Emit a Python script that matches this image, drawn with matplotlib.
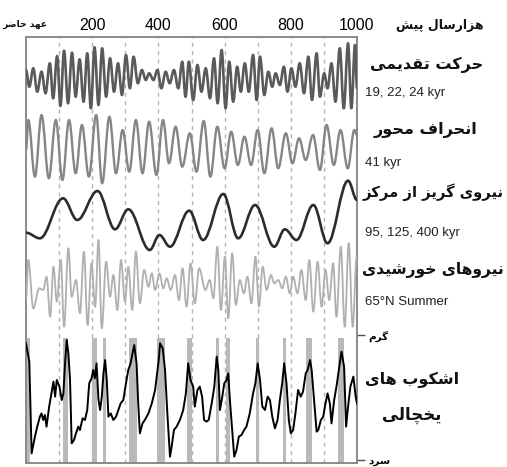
import numpy as np
import matplotlib
matplotlib.use('Agg')
import matplotlib.pyplot as plt
from matplotlib.path import Path
from matplotlib.patches import PathPatch

# ---------------- data (kyr before present) ----------------
prec_kyr = [0, 10, 22, 34, 47, 59, 72, 82, 94, 104, 115, 127, 139, 150, 162, 174, 185, 196, 207, 219,
            230, 242, 254, 266, 278, 290, 302, 314, 325, 338, 350, 362, 372, 385, 397, 409, 422, 434,
            447, 460, 472, 482, 492, 505, 518, 530, 543, 556, 568, 579, 591, 603, 614, 626, 638, 649,
            661, 673, 686, 697, 707, 720, 732, 744, 754, 767, 779, 790, 802, 814, 827, 840, 853, 864,
            878, 888, 901, 911, 923, 935, 948, 960, 973, 983, 994, 1000]
prec_val = [8, -8.7, 9.7, -13.7, 6.3, -15.3, 14.7, -20.3, 22, -28, 27.3, -25.3, 25.3, -18.7, 18.7, -23.7,
            24.7, -30.3, 30.7, -27, 29.7, -18.7, 19.7, -13.7, 14.7, -17, 23, -10.3, 21.3, -5.3, 8, -2,
            4.7, -2, 8, -10.3, 6.3, -5.3, 8, -10.3, 16.3, -18.7, 16.3, -22, 13, -13.7, 9.7, -20.3, 19.7,
            -25.3, 28, -30.3, 16.3, -23.7, 11.3, -13.7, 14.7, -13.7, 23, -22, 21.3, -17, 6.3, -8.7, 4.7,
            -7, 11.3, -13.7, 9.7, -8.7, 14.7, -15.3, 21.3, -22, 24.7, -18.7, 4.7, -10.3, 14.7, -23.7,
            29.7, -30.3, 34.7, -30.3, 33, -10]

obl_kyr = [0, 7, 27, 47, 69, 90, 110, 130, 150, 169, 190, 212, 230, 252, 272, 292, 312, 332, 352, 372,
           394, 414, 432, 452, 472, 495, 515, 537, 557, 578, 600, 620, 640, 660, 680, 700, 720, 742,
           762, 785, 805, 825, 845, 867, 888, 908, 930, 950, 972, 992, 1000]
obl_val = [-2, 28, -28.7, 33, -30.3, 28, -32, 28, -25.3, 23, -28.7, 33, -35.3, 31.3, -25.3, 18, -23.7,
           28, -25.3, 26.3, -27, 28, -15.3, 21.3, -18.7, 14.7, -23.7, 27, -28.7, 21.3, -20.3, 16.3, -17,
           11.3, -17, 18, -25.3, 19.7, -20.3, 14.7, -15.3, 9.7, -12, 13, -22, 23, -17, 18, -20.3, 18, 13]

ecc_kyr = [0, 42, 112, 155, 216, 269, 309, 374, 403, 435, 493, 535, 596, 641, 692, 750, 782, 817, 868,
           911, 973, 1000]
ecc_val = [-12.7, -18.3, 21.7, 0, 29, -9.3, 10.7, -30, -15, -26.7, 9.3, -20, 26, -18.3, 15, -26.7, -9.3,
           -20, 15, -23.3, 39.3, 20]

ins_kyr = [0, 7, 22, 40, 52, 62, 73, 83, 93, 105, 115, 128, 138, 151, 163, 175, 186, 198, 209, 219, 229,
           242, 254, 264, 276, 287, 299, 309, 321, 332, 344, 357, 370, 380, 390, 403, 415, 425, 437, 450,
           462, 473, 485, 497, 510, 523, 542, 555, 566, 578, 589, 601, 611, 623, 634, 646, 658, 669, 681,
           693, 704, 715, 727, 740, 750, 762, 774, 785, 797, 807, 820, 832, 845, 856, 868, 881, 893, 905,
           916, 928, 938, 951, 963, 975, 987, 999]
ins_val = [-15, 25, -23.3, -3.3, -5, 8.3, -31.7, 18.3, -16.7, 25, -41.7, 36.7, -11.7, 5, -28.3, 33.3, -40,
           21.7, -21.7, 45, -43.3, 23.3, -11.7, 10, -25, 25, -16.7, 18.3, -25, 33.3, -18.3, 15, -1.7, 11.7,
           -5, 11.7, -3.3, 6.7, -5, 10, -15, 16.7, -21.7, 21.7, -18.3, 16.7, -5, 5, -13.3, 38.3, -25, 28.3,
           -33.3, 31.7, -20, 5, -8.3, 8.3, -18.3, 28.3, -21.7, 18.3, -5, 10, 1.7, 5, -3.3, 8.3, -8.3, 8.3,
           -8.3, 15, -15, 25, -26.7, 23.3, -21.7, 15, -15, 21.7, -31.7, 38.3, -41.7, 41.7, -41.7, 28.3]

# glacial record: 0 = cold, 1 = warm
glac_kyr = [0, 10, 17, 27, 34, 42, 47, 52, 57, 62, 70, 78, 83, 88, 93, 101, 108, 113, 118, 123, 128, 133,
            138, 145, 151, 158, 163, 171, 178, 185, 191, 198, 203, 208, 213, 219, 224, 229, 234, 239, 244,
            249, 256, 264, 272, 279, 286, 294, 302, 309, 316, 322, 327, 334, 339, 344, 352, 359, 370, 380,
            390, 395, 401, 405, 413, 420, 427, 435, 440, 447, 455, 465, 475, 483, 490, 497, 505, 510, 518,
            525, 532, 538, 545, 552, 561, 569, 576, 581, 586, 593, 599, 606, 611, 616, 623, 629, 636, 643,
            651, 659, 666, 676, 686, 693, 700, 707, 714, 722, 730, 737, 744, 752, 760, 767, 774, 780, 787,
            794, 800, 807, 814, 822, 830, 837, 845, 851, 858, 863, 871, 878, 883, 891, 898, 903, 911, 918,
            923, 931, 938, 945, 953, 961, 967, 973, 980, 989, 996, 1000]
glac_val = [0.933, 0.787, 0.053, 0.187, 0.267, 0.347, 0.373, 0.32, 0.36, 0.267, 0.427, 0.547, 0.627, 0.507,
            0.64, 0.587, 0.48, 0.533, 0.773, 0.96, 0.853, 0.64, 0.133, 0.16, 0.213, 0.267, 0.24, 0.333,
            0.32, 0.4, 0.613, 0.653, 0.72, 0.653, 0.773, 0.48, 0.4, 0.507, 0.693, 0.8, 0.64, 0.347, 0.373,
            0.32, 0.347, 0.4, 0.453, 0.48, 0.613, 0.72, 0.773, 0.853, 0.92, 0.773, 0.453, 0.213, 0.293,
            0.32, 0.373, 0.453, 0.56, 0.667, 0.8, 0.933, 0.893, 0.72, 0.373, 0.027, 0.107, 0.24, 0.267,
            0.32, 0.4, 0.533, 0.773, 0.64, 0.587, 0.427, 0.56, 0.587, 0.507, 0.32, 0.307, 0.32, 0.453,
            0.587, 0.827, 0.72, 0.4, 0.507, 0.613, 0.64, 0.693, 0.48, 0.24, 0.027, 0.08, 0.187, 0.2, 0.24,
            0.267, 0.373, 0.533, 0.613, 0.773, 0.64, 0.427, 0.4, 0.507, 0.48, 0.347, 0.253, 0.32, 0.48,
            0.613, 0.773, 0.613, 0.32, 0.213, 0.24, 0.373, 0.56, 0.507, 0.547, 0.693, 0.72, 0.8, 0.72,
            0.453, 0.227, 0.24, 0.32, 0.347, 0.427, 0.533, 0.453, 0.293, 0.48, 0.587, 0.72, 0.867, 0.747,
            0.267, 0.427, 0.587, 0.667, 0.507, 0.453]

# interglacial bands (start, end kyr)
term_start = [0, 113, 198, 233, 312, 397, 485, 573, 603, 695, 775, 846, 943]
term_end = [13, 128, 216, 242, 334, 420, 502, 583, 616, 704, 787, 865, 961]

grid_kyr = [100, 200, 300, 400, 500, 600, 700, 800, 900]
top_ticks = [200, 400, 600, 800, 1000]

labels_fa = {
    'prec': 'حرکت تقدیمی',
    'obl': 'انحراف محور',
    'ecc': 'نیروی گریز از مرکز',
    'ins': 'نیروهای خورشیدی',
    'glac1': 'اشکوب\u200cهای',
    'glac2': 'یخچالی',
    'warm': 'گرم',
    'cold': 'سرد',
    'now': 'عهد حاضر',
    'kyr': 'هزارسال پیش',
}
labels_en = {
    'prec': '19, 22, 24 kyr',
    'obl': '41 kyr',
    'ecc': '95, 125, 400 kyr',
    'ins': '65°N Summer',
}

# ---------------- minimal Persian shaping ----------------
FORMS = {
    'ا': ('\uFE8D', '\uFE8E', None, None),
    'ب': ('\uFE8F', '\uFE90', '\uFE91', '\uFE92'),
    'پ': ('\uFB56', '\uFB57', '\uFB58', '\uFB59'),
    'ت': ('\uFE95', '\uFE96', '\uFE97', '\uFE98'),
    'ح': ('\uFEA1', '\uFEA2', '\uFEA3', '\uFEA4'),
    'خ': ('\uFEA5', '\uFEA6', '\uFEA7', '\uFEA8'),
    'چ': ('\uFB7A', '\uFB7B', '\uFB7C', '\uFB7D'),
    'د': ('\uFEA9', '\uFEAA', None, None),
    'ر': ('\uFEAD', '\uFEAE', None, None),
    'ز': ('\uFEAF', '\uFEB0', None, None),
    'س': ('\uFEB1', '\uFEB2', '\uFEB3', '\uFEB4'),
    'ش': ('\uFEB5', '\uFEB6', '\uFEB7', '\uFEB8'),
    'ض': ('\uFEBD', '\uFEBE', '\uFEBF', '\uFEC0'),
    'ع': ('\uFEC9', '\uFECA', '\uFECB', '\uFECC'),
    'ف': ('\uFED1', '\uFED2', '\uFED3', '\uFED4'),
    'ق': ('\uFED5', '\uFED6', '\uFED7', '\uFED8'),
    'ک': ('\uFB8E', '\uFB8F', '\uFB90', '\uFB91'),
    'گ': ('\uFB92', '\uFB93', '\uFB94', '\uFB95'),
    'ل': ('\uFEDD', '\uFEDE', '\uFEDF', '\uFEE0'),
    'م': ('\uFEE1', '\uFEE2', '\uFEE3', '\uFEE4'),
    'ن': ('\uFEE5', '\uFEE6', '\uFEE7', '\uFEE8'),
    'ه': ('\uFEE9', '\uFEEA', '\uFEEB', '\uFEEC'),
    'و': ('\uFEED', '\uFEEE', None, None),
    'ی': ('\uFBFC', '\uFBFD', '\uFBFE', '\uFBFF'),
}


def fa(s):
    out = []
    n = len(s)
    for i, c in enumerate(s):
        if c not in FORMS:
            out.append(c)
            continue
        iso, fin, ini, med = FORMS[c]
        prev = s[i - 1] if i > 0 else None
        nxt = s[i + 1] if i < n - 1 else None
        jp = prev in FORMS and FORMS[prev][2] is not None
        jn = nxt in FORMS and ini is not None
        if jp and jn:
            f = med
        elif jp:
            f = fin
        elif jn:
            f = ini
        else:
            f = iso
        out.append(f)
    return ''.join(reversed(out)).replace('\u200c', ' ')


# ---------------- figure ----------------
W, H = 507, 467
fig = plt.figure(figsize=(W / 100, H / 100), dpi=100)
fig.patch.set_facecolor('white')
ax = fig.add_axes([26 / W, 1 - 463 / H, (357 - 26) / W, (463 - 37) / H])
ax.set_xlim(0, 1000)
ax.set_ylim(0, 426)

# band layout (chart units)
prec_c, obl_c, ecc_c, ins_c = 385, 315, 243, 178
glac_base, glac_scale = 3, 125


def smooth(t, v, off):
    a = 0.3642
    verts = [(t[0], v[0] + off)]
    codes = [Path.MOVETO]
    for i in range(len(t) - 1):
        dt = t[i + 1] - t[i]
        verts += [(t[i] + a * dt, v[i] + off), (t[i + 1] - a * dt, v[i + 1] + off),
                  (t[i + 1], v[i + 1] + off)]
        codes += [Path.CURVE4] * 3
    return Path(verts, codes)


for g in grid_kyr:
    ax.axvline(g, color='#b4b4b4', lw=1.0, ls=(0, (3, 3)), zorder=0.5)

ax.bar(term_start, glac_scale * 1.0, width=np.array(term_end) - np.array(term_start), bottom=0,
       align='edge', color='#b9b9b9', lw=0, zorder=1)

for t, v, c, col, lw in [(prec_kyr, prec_val, prec_c, '#5a5a5a', 1.9),
                         (obl_kyr, obl_val, obl_c, '#858585', 1.7),
                         (ecc_kyr, ecc_val, ecc_c, '#2c2c2c', 1.9),
                         (ins_kyr, ins_val, ins_c, '#b0b0b0', 1.3)]:
    ax.add_patch(PathPatch(smooth(t, v, c), fill=False, edgecolor=col, lw=lw, zorder=3,
                           capstyle='round', joinstyle='round'))

ax.plot(glac_kyr, glac_base + glac_scale * np.array(glac_val), color='black', lw=1.4, zorder=4)

for s in ax.spines.values():
    s.set_color('#8a8a8a')
    s.set_linewidth(1.4)

latin = ['Liberation Sans Narrow', 'Liberation Sans', 'DejaVu Sans']
ax.xaxis.tick_top()
ax.set_xticks(top_ticks)
ax.set_xticklabels([str(v) for v in top_ticks], family=latin, fontsize=11.5)
ax.tick_params(axis='x', length=0, pad=3)

ax.yaxis.tick_right()
ax.set_yticks([glac_base, glac_base + glac_scale])
ax.set_yticklabels([fa(labels_fa['cold']), fa(labels_fa['warm'])], family=['DejaVu Sans'],
                   fontsize=7.5, fontweight='bold')
ax.tick_params(axis='y', length=6, width=1.0, color='#555555', pad=2)


def ftxt(x, y, s, **kw):
    fig.text(x / W, 1 - y / H, s, **kw)


fa_kw = dict(family=['DejaVu Sans'], fontweight='bold', color='#111111', va='center')
en_kw = dict(family=latin, color='#222222', va='center', ha='left', fontsize=9.5)

ftxt(483, 65, fa(labels_fa['prec']), ha='right', fontsize=11.5, **fa_kw)
ftxt(365, 93, labels_en['prec'], **en_kw)
ftxt(477, 130, fa(labels_fa['obl']), ha='right', fontsize=11.5, **fa_kw)
ftxt(365, 163, labels_en['obl'], **en_kw)
ftxt(504, 192, fa(labels_fa['ecc']), ha='right', fontsize=10.6, **fa_kw)
ftxt(365, 233, labels_en['ecc'], **en_kw)
ftxt(504, 270, fa(labels_fa['ins']), ha='right', fontsize=11.2, **fa_kw)
ftxt(365, 302, labels_en['ins'], **en_kw)
ftxt(412, 380, fa(labels_fa['glac1']), ha='center', fontsize=11.5, **fa_kw)
ftxt(412, 415, fa(labels_fa['glac2']), ha='center', fontsize=12, **fa_kw)
ftxt(25, 24, fa(labels_fa['now']), ha='center', fontsize=6.6, **fa_kw)
ftxt(440, 25, fa(labels_fa['kyr']), ha='center', fontsize=9, **fa_kw)

fig.savefig('out.png', dpi=100)
